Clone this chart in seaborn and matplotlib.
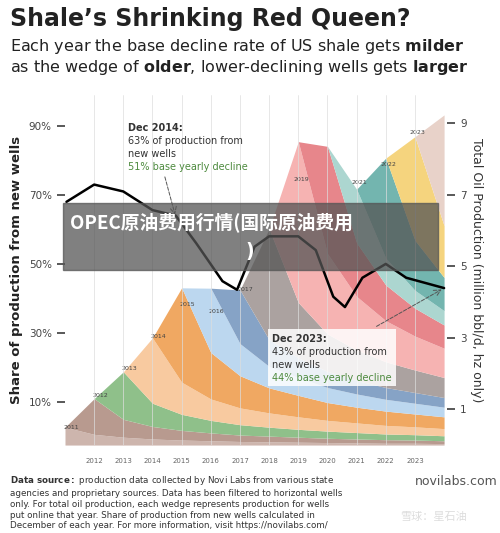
import matplotlib
matplotlib.use("Agg")
import matplotlib.pyplot as plt
import seaborn as sns
import numpy as np

sns.set_theme(style="white")
plt.rcParams['font.family'] = ['DejaVu Sans', 'Noto Sans CJK SC']

years = [2011, 2012, 2013, 2014, 2015, 2016, 2017, 2018, 2019, 2020, 2021, 2022, 2023, 2024]
cohorts = ["2010", "2011", "2012", "2013", "2014", "2015", "2016", "2017", "2018", "2019", "2020", "2021", "2022", "2023"]
# production (million bbl/d) by cohort at each year start
p2010 = [0.5, 0.3, 0.22, 0.17, 0.14, 0.12, 0.1, 0.09, 0.08, 0.07, 0.06, 0.05, 0.05, 0.04]
p2011 = [0, 1.0, 0.5, 0.35, 0.27, 0.22, 0.18, 0.16, 0.14, 0.12, 0.11, 0.1, 0.09, 0.08]
p2012 = [0, 0, 1.33, 0.65, 0.45, 0.35, 0.29, 0.25, 0.22, 0.2, 0.18, 0.16, 0.15, 0.14]
p2013 = [0, 0, 0, 1.83, 0.9, 0.6, 0.47, 0.4, 0.35, 0.3, 0.27, 0.24, 0.22, 0.2]
p2014 = [0, 0, 0, 0, 2.64, 1.3, 0.9, 0.7, 0.6, 0.5, 0.44, 0.4, 0.36, 0.33]
p2015 = [0, 0, 0, 0, 0, 1.8, 0.9, 0.6, 0.5, 0.42, 0.37, 0.33, 0.3, 0.27]
p2016 = [0, 0, 0, 0, 0, 0, 1.5, 0.75, 0.55, 0.45, 0.38, 0.33, 0.3, 0.27]
p2017 = [0, 0, 0, 0, 0, 0, 0, 3.1, 1.55, 1.05, 0.85, 0.72, 0.63, 0.56]
p2018 = [0, 0, 0, 0, 0, 0, 0, 0, 4.5, 2.25, 1.5, 1.15, 0.95, 0.82]
p2019 = [0, 0, 0, 0, 0, 0, 0, 0, 0, 3.0, 1.5, 1.0, 0.78, 0.65]
p2020 = [0, 0, 0, 0, 0, 0, 0, 0, 0, 0, 1.5, 0.75, 0.5, 0.4]
p2021 = [0, 0, 0, 0, 0, 0, 0, 0, 0, 0, 0, 2.8, 1.4, 0.93]
p2022 = [0, 0, 0, 0, 0, 0, 0, 0, 0, 0, 0, 0, 2.9, 1.45]
p2023 = [0, 0, 0, 0, 0, 0, 0, 0, 0, 0, 0, 0, 0, 3.1]
stack = [p2010, p2011, p2012, p2013, p2014, p2015, p2016, p2017, p2018, p2019, p2020, p2021, p2022, p2023]
colors = ["#cdb5ad", "#b89a8f", "#8fc08a", "#f8caa0", "#f0a862", "#bcd7ef", "#86a3c6", "#aba2a0",
          "#f6b3b2", "#e7868b", "#acd6d0", "#73b5af", "#f5d47e", "#e8d2c9"]

share_x = [2011.05, 2012.0, 2013.0, 2014.0, 2014.8, 2015.5, 2016.4, 2016.9, 2017.5, 2018.0,
           2019.0, 2019.6, 2020.2, 2020.6, 2021.2, 2022.0, 2022.7, 2024.0]
share_y = [68, 73, 71, 65.6, 64, 56, 45, 42.5, 55, 58, 58, 54, 40.5, 37.5, 46, 50, 46, 43]

fig = plt.figure(figsize=(5, 5.33), dpi=100)
ax = fig.add_axes([0.13, 0.165, 0.764, 0.657])
ax2 = ax.twinx()
ax.set_zorder(2); ax2.set_zorder(1); ax.patch.set_visible(False)

ax2.stackplot(years, *stack, colors=colors, linewidth=0)
label_pos = [(2011.2, 0.45, "2011"), (2012.2, 1.35, "2012"), (2013.2, 2.1, "2013"), (2014.2, 3.0, "2014"),
             (2015.2, 3.9, "2015"), (2016.2, 3.7, "2016"), (2017.2, 4.3, "2017"), (2019.1, 7.4, "2019"),
             (2021.1, 7.3, "2021"), (2022.1, 7.8, "2022"), (2023.1, 8.7, "2023")]
for x, y, t in label_pos:
    ax2.text(x, y, t, fontsize=4.5, color="#444444", ha="center")
ax2.set_ylim(0, 9.8)
ax2.set_yticks([1, 3, 5, 7, 9])
ax2.set_ylabel("Total Oil Production (million bbl/d, hz only)", fontsize=9, color="#333333", rotation=270, labelpad=12)
ax2.tick_params(labelsize=7.5, colors="#444444")

sns.lineplot(x=share_x, y=share_y, ax=ax, color="black", linewidth=1.8)
ax.set_xlim(2011.0, 2024.1)
ax.set_ylim(-2.5, 99)
ax.set_yticks([10, 30, 50, 70, 90])
ax.set_yticklabels(["10%", "30%", "50%", "70%", "90%"])
ax.set_xticks(range(2012, 2024))
ax.tick_params(axis="x", labelsize=5, colors="#666666")
ax.tick_params(axis="y", labelsize=7.5, colors="#444444")
ax.set_ylabel("Share of production from new wells", fontsize=9.5, fontweight="bold", color="#222222")
ax.grid(axis="x", color="#dddddd", linewidth=0.5)
for s in ["top", "right", "left", "bottom"]:
    ax.spines[s].set_visible(False); ax2.spines[s].set_visible(False)

ax.text(2013.15, 89.4, "Dec 2014:", fontsize=7, fontweight="bold", color="#333333", va="center")
ax.text(2013.15, 85.6, "63% of production from", fontsize=7, color="#333333", va="center")
ax.text(2013.15, 81.8, "new wells", fontsize=7, color="#333333", va="center")
ax.text(2013.15, 78.1, "51% base yearly decline", fontsize=7, color="#4d8a3e", va="center")
ax.annotate("", xy=(2014.8, 63.5), xytext=(2014.4, 76), arrowprops=dict(arrowstyle="->", ls="--", color="#555555", lw=0.7))
ax.add_patch(plt.Rectangle((2017.95, 14.5), 4.4, 16.5, fc="white", ec="none", alpha=0.85, zorder=3))
ax.text(2018.1, 28.2, "Dec 2023:", fontsize=7, fontweight="bold", color="#333333", va="center", zorder=4)
ax.text(2018.1, 24.4, "43% of production from", fontsize=7, color="#333333", va="center", zorder=4)
ax.text(2018.1, 20.6, "new wells", fontsize=7, color="#333333", va="center", zorder=4)
ax.text(2018.1, 16.9, "44% base yearly decline", fontsize=7, color="#4d8a3e", va="center", zorder=4)
ax.annotate("", xy=(2024.0, 43), xytext=(2021.6, 31.5), arrowprops=dict(arrowstyle="->", ls="--", color="#555555", lw=0.7))

fig.text(0.02, 0.965, "Shale’s Shrinking Red Queen?", fontsize=17, fontweight="bold", color="#222222", va="center")
fig.text(0.02, 0.912, "Each year the base decline rate of US shale gets $\\bf{milder}$", fontsize=11.5, color="#222222", va="center")
fig.text(0.02, 0.873, "as the wedge of $\\bf{older}$, lower-declining wells gets $\\bf{larger}$", fontsize=11.5, color="#222222", va="center")
fig.text(0.02, 0.11, "$\\bf{Data\\ source:}$ production data collected by Novi Labs from various state\n"
         "agencies and proprietary sources. Data has been filtered to horizontal wells\n"
         "only. For total oil production, each wedge represents production for wells\n"
         "put online that year. Share of production from new wells calculated in\n"
         "December of each year. For more information, visit https://novilabs.com/",
         fontsize=6.3, color="#333333", va="top", linespacing=1.25)
fig.text(0.83, 0.097, "novilabs.com", fontsize=9, color="#555555", va="center")
fig.text(0.80, 0.03, "雪球：星石油", fontsize=8, color="#dddddd", va="center", family=['Noto Sans CJK SC'])

fig.patches.append(plt.Rectangle((0.125, 0.493), 0.75, 0.127, transform=fig.transFigure,
                                 color="#555555", alpha=0.75, zorder=10))
fig.text(0.14, 0.584, "OPEC原油费用行情(国际原油费用", fontsize=13.5, fontweight="bold", color="white",
         va="center", zorder=11, family=['Noto Sans CJK SC', 'DejaVu Sans'])
fig.text(0.49, 0.528, ")", fontsize=13.5, fontweight="bold", color="white", va="center", zorder=11)

fig.savefig("out.png", dpi=100)
